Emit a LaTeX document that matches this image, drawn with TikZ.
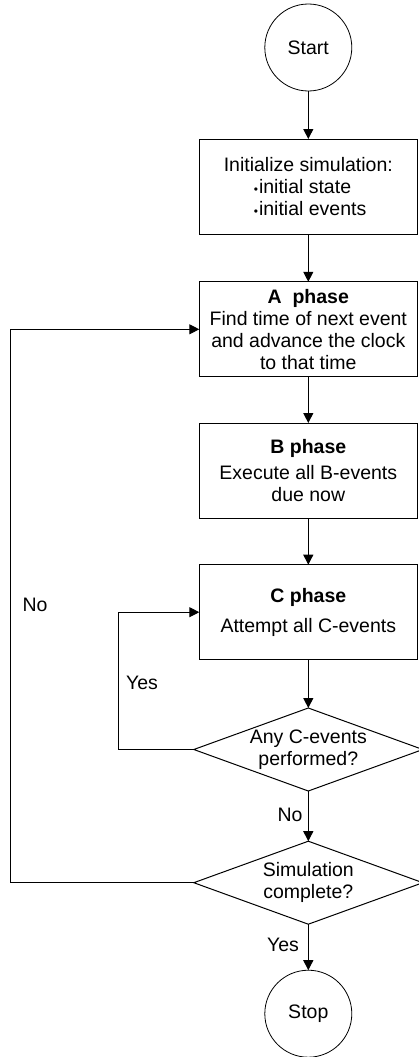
\documentclass[tikz,border=0pt]{standalone}
\usepackage{fontspec}
\setmainfont{Liberation Sans}
\usetikzlibrary{arrows.meta}
\newcommand{\smallbullet}{\raisebox{-0.5pt}{\fontsize{12}{12}\selectfont\textbullet}\hspace{1pt}}
\begin{document}
\begin{tikzpicture}[x=1pt,y=-1pt,
  every node/.style={font=\fontsize{19.5}{22}\selectfont, inner sep=0pt, outer sep=0pt},
  term/.style={draw, circle, minimum size=87pt, line width=0.8pt},
  procbox/.style={draw, rectangle, minimum width=218pt, minimum height=95pt,
                  align=center, line width=1pt},
  decision/.style={rectangle, minimum width=229pt, minimum height=83pt, align=center},
  flow/.style={line width=1pt, -{Triangle[width=10pt,length=10pt]}},
  edgeline/.style={line width=1pt}
]
\useasboundingbox (0,0) rectangle (418,1057);

% terminals and process steps
\node[term] (start) at (308.3,47.5) {Start};
\node[procbox] (init) at (308.3,186.5)
  {Initialize simulation:\\
   \makebox[109pt][l]{\smallbullet initial state}\\
   \makebox[109pt][l]{\smallbullet initial events}};
\node[procbox] (A) at (308.3,329.3)
  {\textbf{A\ \ phase}\\Find time of next event\\and advance the clock\\to that time};
\node[procbox] (B) at (308.3,470.5)
  {\textbf{B phase}\\[4pt]Execute all B-events\\due now};
\node[procbox] (C) at (308.3,612.2)
  {\textbf{C phase}\\[8pt]Attempt all C-events};

% decisions
\node[decision] (d1) at (308.3,749.5) {Any C-events\\performed?};
\node[decision] (d2) at (308.3,882.7) {Simulation\\complete?};
\draw[edgeline] (d1.north) -- (d1.east) -- (d1.south) -- (d1.west) -- cycle;
\draw[edgeline] (d2.north) -- (d2.east) -- (d2.south) -- (d2.west) -- cycle;

\node[term] (stop) at (308.3,1013.7) {Stop};

% main flow
\draw[flow] (start) -- (init);
\draw[flow] (init) -- (A);
\draw[flow] (A) -- (B);
\draw[flow] (B) -- (C);
\draw[flow] (C) -- (d1.north);
\draw[flow] (d1.south) -- (d2.north);
\draw[flow] (d2.south) -- (stop);

% feedback loops
\draw[flow] (d1.west) -- ++(-75,0) |- (C.west);
\draw[flow] (d2.west) -- ++(-183.5,0) |- (A.west);

% branch labels
\node (noOuter) at (35,605) {No};
\node (yesInner) at (142,683) {Yes};
\node (noDown) at (290,815) {No};
\node (yesDown) at (283,945) {Yes};
\end{tikzpicture}
\end{document}
